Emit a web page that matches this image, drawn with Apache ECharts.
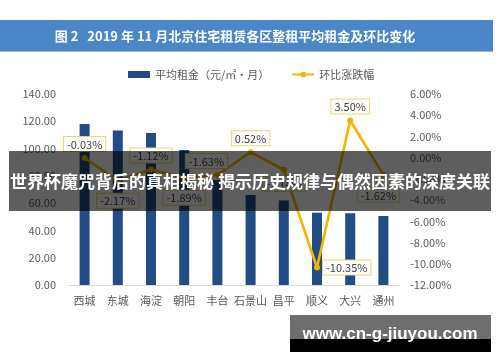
<!DOCTYPE html>
<html>
<head>
<meta charset="utf-8">
<script src="https://cdn.jsdelivr.net/npm/echarts@6/dist/echarts.min.js"></script>
<style>
html,body{margin:0;padding:0;background:#fff;}
#chart{width:500px;height:362px;}
</style>
</head>
<body>
<div id="chart"></div>
<script>
var titleText = '图 2   2019 年 11 月北京住宅租赁各区整租平均租金及环比变化';
var bannerText = '世界杯魔咒背后的真相揭秘 揭示历史规律与偶然因素的深度关联';
var watermarkText = 'www.cn-g-jiuyou.com';
var categories = ['西城','东城','海淀','朝阳','丰台','石景山','昌平','顺义','大兴','通州'];
var rentName = '平均租金（元/㎡·月）';
var rentValues = [118.0, 113.3, 111.4, 99.0, 77.0, 66.0, 62.0, 53.0, 52.6, 50.6];
var changeName = '环比涨跌幅';
var changeValues = [-0.03, -2.17, -1.12, -1.89, -1.63, 0.52, -1.14, -10.35, 3.50, -1.62];
var changeLabelPos = ['top','bottom','top','bottom','top','top','bottom','right','top','bottom'];
var leftTicks = {min: 0, max: 140, interval: 20};
var rightTicks = {min: -12, max: 6, interval: 2};

var font = '"Noto Sans CJK SC","Noto Sans",sans-serif';
var gray = '#595959';

var lineData = changeValues.map(function(v, i){
  var pos = changeLabelPos[i];
  var lab = {position: pos};
  if (pos === 'bottom') lab.distance = 10;
  if (pos === 'top') lab.distance = 4;
  if (pos === 'right') lab.distance = 3;
  if (i === 4) lab.offset = [-11, 0];
  if (i === 6) lab.distance = 4;
  if (i === 9) lab.offset = [-5, 0];
  return {value: v, label: lab};
});

var chart = echarts.init(document.getElementById('chart'), null, {renderer: 'canvas'});
chart.setOption({
  backgroundColor: '#ffffff',
  animation: false,
  textStyle: {fontFamily: font},
  legend: {
    left: 123, top: 64,
    itemWidth: 22, itemHeight: 7, itemGap: 22,
    textStyle: {color: gray, fontSize: 11, fontFamily: font},
    data: [
      {name: rentName, icon: 'rect'},
      {name: changeName}
    ]
  },
  grid: {left: 68, right: 100, top: 94, bottom: 77},
  xAxis: {
    type: 'category',
    data: categories,
    axisLine: {lineStyle: {color: '#d9d9d9', width: 1}},
    axisTick: {show: false},
    axisLabel: {color: gray, fontSize: 11, margin: 10, interval: 0}
  },
  yAxis: [
    {
      type: 'value', min: leftTicks.min, max: leftTicks.max, interval: leftTicks.interval,
      axisLine: {show: false}, axisTick: {show: false}, splitLine: {show: false},
      axisLabel: {color: gray, fontSize: 11, margin: 12, formatter: function(v){return v.toFixed(2);}}
    },
    {
      type: 'value', min: rightTicks.min, max: rightTicks.max, interval: rightTicks.interval,
      axisLine: {show: false}, axisTick: {show: false}, splitLine: {show: false},
      axisLabel: {color: gray, fontSize: 11, margin: 10, formatter: function(v){return v.toFixed(2) + '%';}}
    }
  ],
  series: [
    {
      name: rentName, type: 'bar', yAxisIndex: 0, data: rentValues,
      barWidth: 10,
      itemStyle: {color: '#214c84'}
    },
    {
      name: changeName, type: 'line', yAxisIndex: 1, data: lineData,
      symbol: 'circle', symbolSize: 6,
      lineStyle: {color: '#f4b400', width: 2.6},
      itemStyle: {color: '#f4b400'},
      z: 3,
      label: {
        show: true,
        formatter: function(p){return p.value.toFixed(2) + '%';},
        color: '#404040', fontSize: 11,
        backgroundColor: '#ffffff',
        borderColor: '#f3d36e', borderWidth: 1,
        padding: [2, 3, 1, 3]
      }
    }
  ],
  graphic: [
    {type: 'rect', left: 0, top: 20, z: 50, shape: {width: 493, height: 32}, style: {fill: '#4a86c8'}},
    {type: 'rect', left: 0, top: 51, z: 51, shape: {width: 493, height: 1}, style: {fill: '#8fb3df'}},
    {type: 'text', x: 235, y: 36, z: 52, style: {text: titleText, fill: '#ffffff', font: 'bold 13px ' + font, textAlign: 'center', textVerticalAlign: 'middle'}},
    {type: 'rect', left: 9, top: 151, z: 100, shape: {width: 482, height: 60}, style: {fill: 'rgba(0,0,0,0.63)'}},
    {type: 'text', x: 250, y: 182, z: 101, style: {text: bannerText, fill: '#ffffff', font: 'bold 17px ' + font, textAlign: 'center', textVerticalAlign: 'middle'}},
    {type: 'rect', left: 290, top: 315, z: 100, shape: {width: 201, height: 24}, style: {fill: 'rgba(0,0,0,0.57)'}},
    {type: 'rect', left: 290, top: 339, z: 100, shape: {width: 201, height: 13}, style: {fill: '#000000'}},
    {type: 'text', x: 390, y: 334, z: 101, style: {text: watermarkText, fill: '#ffffff', font: 'bold 17px "Liberation Sans",Arial,sans-serif', textAlign: 'center', textVerticalAlign: 'middle'}}
  ]
});
</script>
</body>
</html>
